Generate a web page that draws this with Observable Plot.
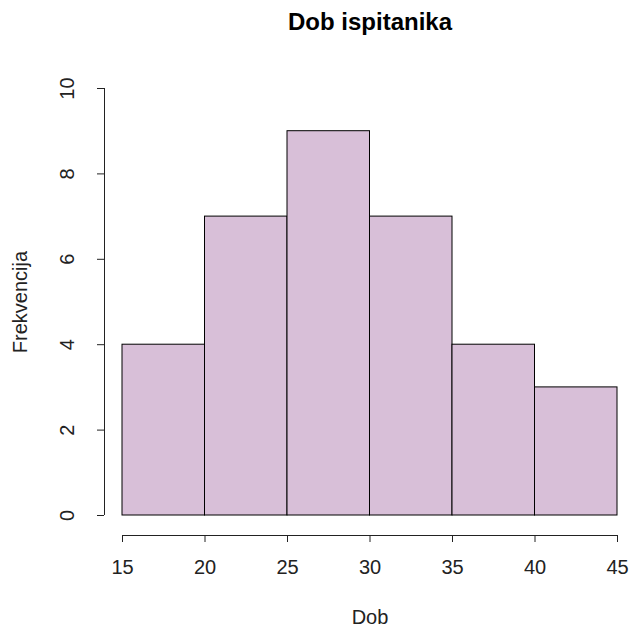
<!DOCTYPE html>
<html>
<head>
<meta charset="utf-8">
<script src="https://cdn.jsdelivr.net/npm/d3@7"></script>
<script src="https://cdn.jsdelivr.net/npm/@observablehq/plot@0.6"></script>
<style>
  html, body { margin: 0; padding: 0; background: #fff; }
</style>
</head>
<body>
<div id="chart"></div>
<script>
const breaks = [15, 20, 25, 30, 35, 40, 45];
const counts = [4, 7, 9, 7, 4, 3];
const xTicks = [15, 20, 25, 30, 35, 40, 45];
const yTicks = [0, 2, 4, 6, 8, 10];
const title = "Dob ispitanika";
const xLabel = "Dob";
const yLabel = "Frekvencija";

const bins = counts.map((c, i) => ({x1: breaks[i], x2: breaks[i + 1], n: c}));
const xMid = (breaks[0] + breaks[breaks.length - 1]) / 2;
const yMid = (yTicks[0] + yTicks[yTicks.length - 1]) / 2;
const font = "Liberation Sans, Arial, sans-serif";

const chart = Plot.plot({
  width: 630,
  height: 627,
  marginLeft: 104,
  marginRight: 13,
  marginTop: 88,
  marginBottom: 92,
  style: {fontFamily: font, background: "#fff", overflow: "visible"},
  x: {domain: [breaks[0], breaks[breaks.length - 1]], insetLeft: 18, axis: null},
  y: {domain: [yTicks[0], yTicks[yTicks.length - 1]], insetBottom: 20, axis: null},
  marks: [
    Plot.rectY(bins, {x1: "x1", x2: "x2", y1: 0, y2: "n", fill: "#D8BFD8", stroke: "#000", strokeWidth: 1}),
    // y axis
    Plot.ruleX([xTicks[0]], {y1: yTicks[0], y2: yTicks[yTicks.length - 1], dx: -18, stroke: "#222"}),
    Plot.axisY(yTicks, {anchor: "left", tickSize: 7, tickFormat: () => "", stroke: "#222", label: null}),
    Plot.text(yTicks, {y: d => d, frameAnchor: "left", dx: -36.5, rotate: -90, textAnchor: "middle", lineAnchor: "middle", fontSize: 20, fill: "#222"}),
    // x axis
    Plot.ruleY([yTicks[0]], {x1: xTicks[0], x2: xTicks[xTicks.length - 1], dy: 20, stroke: "#222"}),
    Plot.axisX(xTicks, {anchor: "bottom", tickSize: 7, tickFormat: () => "", stroke: "#222", label: null}),
    Plot.text(xTicks, {x: d => d, frameAnchor: "bottom", dy: 32.5, textAnchor: "middle", lineAnchor: "middle", fontSize: 20, fill: "#222"}),
    // titles
    Plot.text([title], {x: xMid, frameAnchor: "top", dy: -66, textAnchor: "middle", lineAnchor: "middle", fontSize: 24, fontWeight: "bold", fill: "#000"}),
    Plot.text([xLabel], {x: xMid, frameAnchor: "bottom", dy: 82, textAnchor: "middle", lineAnchor: "middle", fontSize: 20, fill: "#222"}),
    Plot.text([yLabel], {y: yMid, frameAnchor: "left", dx: -84, rotate: -90, textAnchor: "middle", lineAnchor: "middle", fontSize: 20, fill: "#222"})
  ]
});
document.getElementById("chart").appendChild(chart);
</script>
</body>
</html>
